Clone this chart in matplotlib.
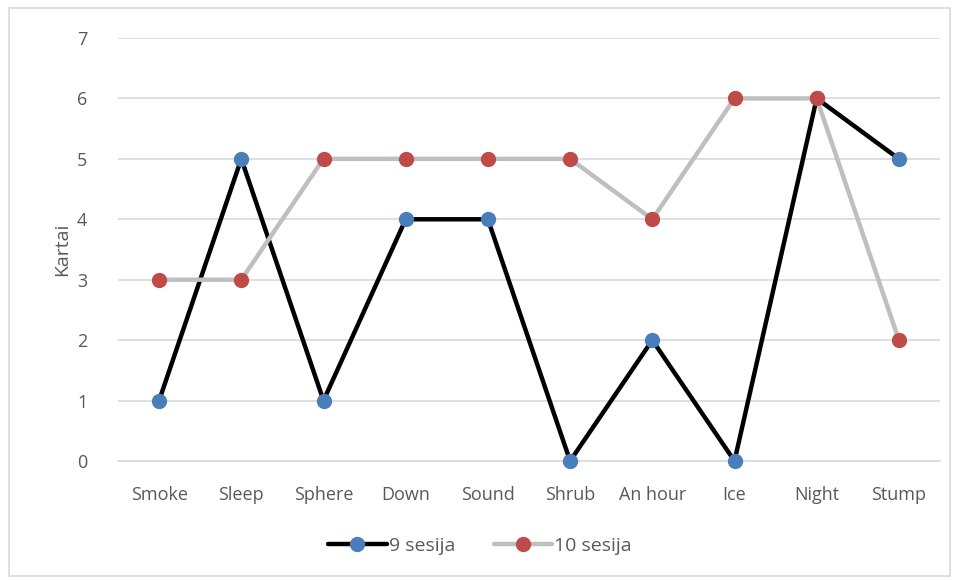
import matplotlib
matplotlib.use("Agg")
import matplotlib.pyplot as plt
from matplotlib.patches import Rectangle

categories = ["Smoke", "Sleep", "Sphere", "Down", "Sound", "Shrub", "An hour", "Ice", "Night", "Stump"]
s9 = [1, 5, 1, 4, 4, 0, 2, 0, 6, 5]
s10 = [3, 3, 5, 5, 5, 5, 4, 6, 6, 2]
series_names = ["9 sesija", "10 sesija"]
yticks = [0, 1, 2, 3, 4, 5, 6, 7]

plt.rcParams['font.family'] = ['Open Sans', 'DejaVu Sans']
txt = '#595959'

fig = plt.figure(figsize=(9.6, 5.8), dpi=100)
ax = fig.add_axes([118/960, 1-461/580, (940-118)/960, (461-38)/580])

x = list(range(len(categories)))
ax.plot(x, s9, color='black', lw=3.2, marker='o', ms=10, mfc='#4A7EBB', mec='#4A7EBB',
        label=series_names[0], solid_capstyle='round', zorder=3, clip_on=False)
ax.plot(x, s10, color='#BFBFBF', lw=3.2, marker='o', ms=10, mfc='#BE4B48', mec='#BE4B48',
        label=series_names[1], solid_capstyle='round', zorder=4, clip_on=False)

ax.set_xlim(-0.5, len(categories)-0.5)
ax.set_ylim(0, 7)
ax.set_yticks(yticks)
ax.set_xticks(x)
ax.set_xticklabels(categories)
ax.tick_params(axis='both', length=0, labelsize=13, colors=txt)
ax.tick_params(axis='x', pad=18)
ax.tick_params(axis='y', pad=22)
ax.grid(axis='y', color='#D9D9D9', lw=1.2)
ax.set_axisbelow(True)
for s in ['top', 'right', 'left']:
    ax.spines[s].set_visible(False)
ax.spines['bottom'].set_color('#D9D9D9')
ax.spines['bottom'].set_linewidth(1.2)
ax.set_ylabel('Kartai', fontsize=14, color=txt, labelpad=4)

leg = fig.legend(loc='center', bbox_to_anchor=(0.5, 1-546/580), ncol=2, frameon=False,
                 fontsize=14, handlelength=3.0, columnspacing=2.0, handletextpad=0.1, labelcolor=txt)

fig.patches.append(Rectangle((9/960, 4/580), (950-9)/960, (572-4)/580, transform=fig.transFigure,
                             fill=False, edgecolor='#D9D9D9', lw=1.2))

fig.savefig('out.png', dpi=100)
